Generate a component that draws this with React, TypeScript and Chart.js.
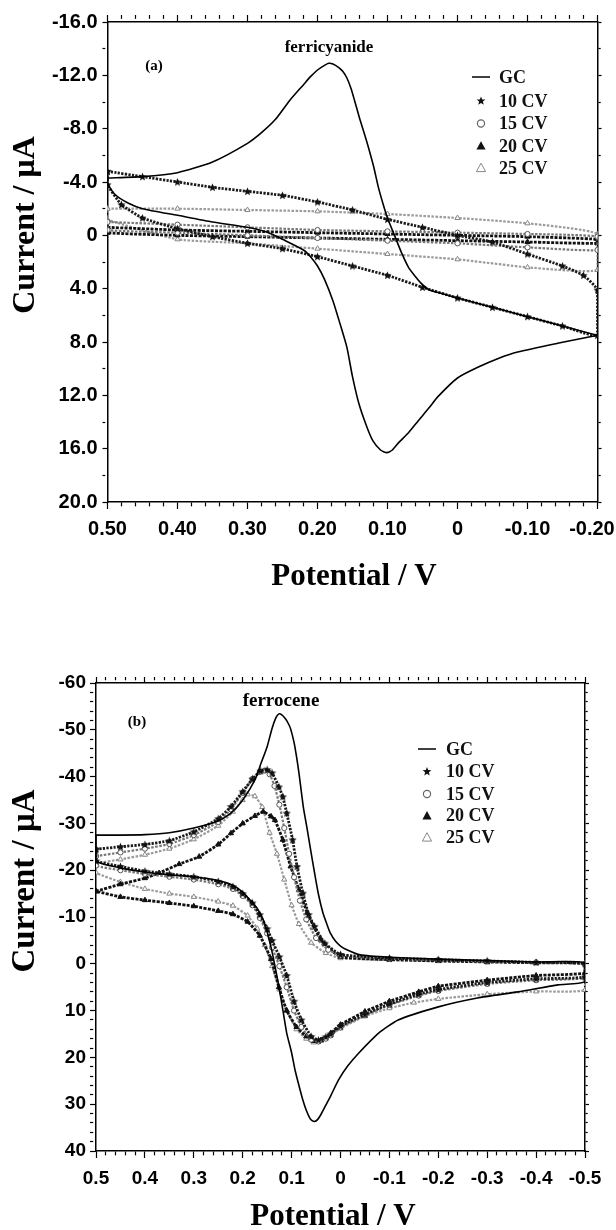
import React, { useEffect, useRef } from 'react';
import { Chart, registerables } from 'chart.js';

Chart.register(...registerables);

// ================= Panel (a): ferricyanide =================
const aXMajor = [0.5, 0.4, 0.3, 0.2, 0.1, 0, -0.1, -0.2];
const aXLabels = ['0.50', '0.40', '0.30', '0.20', '0.10', '0', '-0.10', '-0.20  '];
const aYMajor = [-16, -12, -8, -4, 0, 4, 8, 12, 16, 20];
const aYLabels = ['-16.0', '-12.0', '-8.0', '-4.0', '0', '4.0', '8.0', '12.0', '16.0', '20.0'];

// GC (solid line): sweep 0.50 -> -0.20, then back -0.20 -> 0.50
const aGcV1 = [0.5, 0.45, 0.4, 0.35, 0.3, 0.28, 0.26, 0.24, 0.22, 0.21, 0.2, 0.19, 0.184, 0.178, 0.17, 0.164, 0.158, 0.152, 0.147, 0.14, 0.13, 0.12, 0.113, 0.106, 0.1, 0.09, 0.08, 0.07, 0.06, 0.05, 0.04, 0.02, 0.0, -0.05, -0.1, -0.15, -0.2];
const aGcI1 = [-4.3, -4.4, -4.7, -5.5, -6.9, -7.7, -8.7, -10.1, -11.3, -11.9, -12.4, -12.75, -12.9, -12.85, -12.6, -12.3, -11.8, -11.0, -10.1, -8.8, -7.1, -5.2, -3.6, -2.3, -1.3, 0.0, 1.3, 2.4, 3.1, 3.7, 4.1, 4.4, 4.7, 5.4, 6.1, 6.8, 7.5];
const aGcV2 = [-0.2, -0.143, -0.086, -0.06, -0.029, 0.0, 0.028, 0.04, 0.056, 0.07, 0.085, 0.093, 0.101, 0.11, 0.121, 0.13, 0.141, 0.15, 0.158, 0.168, 0.178, 0.19, 0.2, 0.21, 0.22, 0.25, 0.27, 0.3, 0.35, 0.4, 0.45, 0.47, 0.49, 0.5];
const aGcI2 = [7.5, 8.1, 8.75, 9.2, 9.9, 10.7, 12.1, 12.9, 13.9, 14.8, 15.6, 16.1, 16.3, 16.1, 15.4, 14.3, 12.6, 10.6, 8.4, 6.6, 4.9, 3.3, 2.3, 1.6, 1.1, 0.3, -0.2, -0.6, -1.0, -1.5, -2.0, -2.4, -3.1, -3.9];

// 10 CV (filled stars)
const a10V1 = [0.5, 0.45, 0.4, 0.35, 0.3, 0.25, 0.2, 0.15, 0.1, 0.05, 0.0, -0.05, -0.1, -0.15, -0.18, -0.2];
const a10I1 = [-4.8, -4.4, -4.0, -3.6, -3.3, -3.0, -2.5, -1.9, -1.2, -0.6, 0.0, 0.5, 1.4, 2.3, 3.0, 4.1];
const a10V2 = [-0.2, -0.15, -0.1, -0.05, 0.0, 0.05, 0.1, 0.15, 0.2, 0.25, 0.3, 0.35, 0.4, 0.45, 0.48, 0.5];
const a10I2 = [7.5, 6.8, 6.1, 5.4, 4.7, 3.9, 3.0, 2.3, 1.6, 1.0, 0.6, 0.1, -0.5, -1.3, -2.3, -3.8];

// 15, 20, 25 CV share the same potential samples
const aFlatV1 = [0.5, 0.4, 0.3, 0.2, 0.1, 0.0, -0.1, -0.2];
const aFlatV2 = [-0.2, -0.1, 0.0, 0.1, 0.2, 0.3, 0.4, 0.5];
const a15I1 = [-1.0, -0.8, -0.6, -0.4, -0.3, -0.2, -0.1, 0.1];
const a15I2 = [1.1, 0.9, 0.6, 0.4, 0.2, 0.0, -0.2, -0.4];
const a20I1 = [-0.6, -0.4, -0.3, -0.2, -0.1, 0.0, 0.1, 0.3];
const a20I2 = [0.6, 0.5, 0.4, 0.3, 0.2, 0.1, 0.0, -0.2];
const a25I1 = [-2.0, -2.0, -1.9, -1.8, -1.6, -1.3, -0.9, -0.1];
const a25I2 = [2.6, 2.4, 1.8, 1.4, 1.0, 0.6, 0.3, -1.2];

// ================= Panel (b): ferrocene =================
const bXMajor = [0.5, 0.4, 0.3, 0.2, 0.1, 0, -0.1, -0.2, -0.3, -0.4, -0.5];
const bXLabels = ['0.5', '0.4', '0.3', '0.2', '0.1', '0', '-0.1', '-0.2', '-0.3', '-0.4', '-0.5'];
const bYMajor = [-60, -50, -40, -30, -20, -10, 0, 10, 20, 30, 40];
const bYLabels = ['-60', '-50', '-40', '-30', '-20', '-10', '0', '10', '20', '30', '40'];

const bGcV1 = [0.5, 0.45, 0.4, 0.35, 0.3, 0.25, 0.224, 0.2, 0.175, 0.162, 0.15, 0.14, 0.132, 0.126, 0.12, 0.113, 0.107, 0.102, 0.095, 0.09, 0.085, 0.076, 0.069, 0.061, 0.053, 0.045, 0.036, 0.028, 0.021, 0.01, 0.0, -0.013, -0.04, -0.1, -0.2, -0.3, -0.4, -0.5];
const bGcI1 = [-27.5, -27.5, -27.6, -28.0, -29.0, -30.5, -32.2, -35.0, -39.3, -43.0, -46.4, -50.3, -52.6, -53.4, -53.2, -52.4, -51.4, -50.2, -47.3, -44.3, -40.8, -33.5, -29.3, -24.3, -19.4, -14.8, -10.9, -8.5, -6.6, -4.8, -3.8, -3.0, -1.9, -1.4, -1.0, -0.7, -0.4, -0.2];
const bGcV2 = [-0.5, -0.445, -0.363, -0.28, -0.2, -0.118, -0.078, -0.037, -0.015, 0.004, 0.02, 0.03, 0.04, 0.047, 0.053, 0.058, 0.063, 0.07, 0.077, 0.085, 0.093, 0.1, 0.11, 0.118, 0.126, 0.134, 0.142, 0.15, 0.158, 0.17, 0.185, 0.2, 0.22, 0.25, 0.3, 0.35, 0.4, 0.45, 0.5];
const bGcI2 = [3.8, 4.5, 6.0, 7.3, 9.2, 12.0, 14.8, 19.1, 21.8, 24.8, 28.2, 30.2, 32.2, 33.3, 33.7, 33.5, 32.9, 31.3, 29.1, 26.0, 22.7, 19.0, 14.8, 9.8, 4.9, 0.5, -3.5, -6.8, -9.4, -11.8, -13.6, -15.3, -16.8, -17.8, -18.6, -19.0, -19.6, -20.5, -22.0];

const b10V1 = [0.5, 0.45, 0.4, 0.35, 0.3, 0.25, 0.224, 0.2, 0.18, 0.163, 0.15, 0.14, 0.126, 0.118, 0.11, 0.098, 0.089, 0.077, 0.065, 0.053, 0.032, 0.0, -0.1, -0.2, -0.3, -0.4, -0.5];
const b10I1 = [-24.5, -25.0, -25.5, -26.3, -28.2, -31.0, -33.6, -36.8, -39.5, -41.2, -41.5, -40.8, -37.8, -35.7, -32.2, -26.5, -20.8, -15.1, -10.5, -8.0, -4.4, -2.0, -1.2, -0.9, -0.6, -0.3, 0.0];
const bCvV2 = [-0.5, -0.4, -0.3, -0.2, -0.16, -0.1, -0.05, 0.0, 0.02, 0.03, 0.045, 0.06, 0.08, 0.095, 0.11, 0.125, 0.14, 0.15, 0.165, 0.18, 0.2, 0.22, 0.25, 0.3, 0.35, 0.4, 0.45, 0.5];
const b10I2 = [2.8, 3.2, 4.0, 5.5, 6.5, 8.6, 10.8, 13.3, 15.0, 15.6, 16.3, 15.5, 12.0, 8.0, 2.5, -1.5, -5.0, -7.5, -10.5, -13.0, -15.0, -16.5, -17.6, -18.6, -19.2, -19.8, -20.8, -22.0];

const b15V1 = [0.5, 0.45, 0.4, 0.35, 0.3, 0.25, 0.224, 0.2, 0.18, 0.165, 0.155, 0.145, 0.135, 0.125, 0.115, 0.105, 0.095, 0.083, 0.07, 0.05, 0.025, 0.0, -0.1, -0.2, -0.3, -0.4, -0.5];
const b15I1 = [-23.0, -23.8, -24.6, -25.6, -27.5, -30.3, -33.0, -36.5, -39.5, -41.0, -41.3, -40.5, -38.0, -34.0, -29.0, -23.5, -18.5, -13.5, -9.5, -5.5, -3.0, -1.8, -1.1, -0.8, -0.5, -0.3, 0.0];
const b15I2 = [3.0, 3.5, 4.3, 5.8, 6.8, 8.8, 11.0, 13.6, 15.3, 16.0, 16.6, 16.2, 13.5, 10.0, 5.0, 0.5, -3.5, -6.5, -9.8, -12.5, -14.5, -16.0, -17.0, -18.0, -18.6, -19.2, -20.0, -21.0];

const b20V1 = [0.5, 0.45, 0.4, 0.371, 0.33, 0.289, 0.25, 0.224, 0.2, 0.175, 0.158, 0.142, 0.134, 0.118, 0.102, 0.085, 0.068, 0.04, 0.0, -0.1, -0.2, -0.3, -0.4, -0.5];
const b20I1 = [-15.5, -17.0, -18.3, -19.4, -21.3, -22.9, -25.5, -27.9, -30.0, -31.6, -32.5, -31.5, -30.7, -26.5, -20.8, -15.8, -10.9, -5.1, -1.5, -0.9, -0.6, -0.4, -0.2, 0.0];
const b20V2 = [-0.5, -0.4, -0.3, -0.2, -0.16, -0.1, -0.05, 0.0, 0.02, 0.04, 0.055, 0.07, 0.09, 0.11, 0.126, 0.142, 0.165, 0.19, 0.22, 0.25, 0.3, 0.35, 0.4, 0.45, 0.5];
const b20I2 = [2.0, 2.5, 3.5, 4.8, 6.0, 8.0, 10.2, 13.0, 14.8, 16.3, 16.5, 15.5, 13.5, 10.0, 5.0, -1.0, -6.0, -9.0, -10.6, -11.3, -12.3, -13.0, -13.6, -14.3, -15.5];

const b25V1 = [0.5, 0.45, 0.4, 0.35, 0.3, 0.25, 0.22, 0.2, 0.19, 0.175, 0.16, 0.145, 0.13, 0.115, 0.1, 0.085, 0.06, 0.03, 0.0, -0.1, -0.2, -0.3, -0.4, -0.5];
const b25I1 = [-21.5, -22.3, -23.3, -24.6, -26.6, -29.5, -32.5, -35.0, -36.2, -35.8, -33.5, -28.0, -23.5, -18.0, -12.5, -8.5, -4.5, -2.3, -1.2, -0.8, -0.6, -0.4, -0.3, -0.1];
const b25V2 = [-0.5, -0.4, -0.3, -0.2, -0.15, -0.1, -0.05, 0.0, 0.02, 0.04, 0.055, 0.07, 0.09, 0.11, 0.125, 0.14, 0.155, 0.17, 0.19, 0.22, 0.25, 0.3, 0.35, 0.4, 0.45, 0.5];
const b25I2 = [5.6, 5.9, 6.5, 7.5, 8.3, 9.5, 11.2, 13.8, 15.2, 16.5, 16.8, 16.0, 14.0, 10.0, 5.5, 0.5, -4.0, -7.5, -10.3, -12.4, -13.3, -14.3, -15.0, -16.0, -17.5, -19.5];

// ================= Shared text =================
const legendLabels = ['GC', '10 CV', '15 CV', '20 CV', '25 CV'];
const yTitleText = 'Current / \u03bcA';
const xTitleText = 'Potential / V';
const aNote = 'ferricyanide';
const aTag = '(a)';
const bNote = 'ferrocene';
const bTag = '(b)';

const SANS = '"Liberation Sans", Arial, Helvetica, sans-serif';
const SERIF = '"Liberation Serif", "Times New Roman", Times, serif';

type Kind = 'gc' | 'star' | 'circle' | 'tri' | 'otri';

function loopPoints(v1: number[], i1: number[], v2: number[], i2: number[]) {
  const pts = v1.map((v, k) => ({ x: v, y: i1[k] }));
  v2.forEach((v, k) => pts.push({ x: v, y: i2[k] }));
  pts.push({ x: v1[0], y: i1[0] });
  return pts;
}

function allTicks(min: number, max: number, step: number) {
  const out: number[] = [];
  const n = Math.round((max - min) / step);
  for (let k = 0; k <= n; k++) out.push(+(min + k * step).toFixed(4));
  return out;
}

function majorIndex(v: number, majors: number[]) {
  return majors.findIndex((m) => Math.abs(m - v) < 1e-6);
}

function starPath(ctx: CanvasRenderingContext2D, cx: number, cy: number, R: number, r: number) {
  ctx.beginPath();
  for (let k = 0; k < 10; k++) {
    const ang = -Math.PI / 2 + (k * Math.PI) / 5;
    const rad = k % 2 === 0 ? R : r;
    const px = cx + rad * Math.cos(ang);
    const py = cy + rad * Math.sin(ang);
    if (k === 0) ctx.moveTo(px, py);
    else ctx.lineTo(px, py);
  }
  ctx.closePath();
}

function makeStarImage() {
  const c = document.createElement('canvas');
  c.width = 9;
  c.height = 9;
  const g = c.getContext('2d')!;
  g.fillStyle = '#111';
  starPath(g, 4.5, 4.8, 4.3, 1.9);
  g.fill();
  return c;
}

function drawSymbol(ctx: CanvasRenderingContext2D, kind: Kind, x: number, y: number) {
  ctx.save();
  if (kind === 'gc') {
    ctx.strokeStyle = '#000';
    ctx.lineWidth = 1.5;
    ctx.beginPath();
    ctx.moveTo(x - 9, y);
    ctx.lineTo(x + 9, y);
    ctx.stroke();
  } else if (kind === 'star') {
    ctx.fillStyle = '#111';
    starPath(ctx, x, y, 4.6, 2);
    ctx.fill();
  } else if (kind === 'circle') {
    ctx.strokeStyle = '#666';
    ctx.lineWidth = 1.2;
    ctx.beginPath();
    ctx.arc(x, y, 3.6, 0, Math.PI * 2);
    ctx.stroke();
  } else {
    ctx.beginPath();
    ctx.moveTo(x, y - 4.8);
    ctx.lineTo(x - 4.6, y + 3.6);
    ctx.lineTo(x + 4.6, y + 3.6);
    ctx.closePath();
    if (kind === 'tri') {
      ctx.fillStyle = '#111';
      ctx.fill();
    } else {
      ctx.strokeStyle = '#888';
      ctx.lineWidth = 1;
      ctx.stroke();
    }
  }
  ctx.restore();
}

type Panel = {
  width: number;
  height: number;
  x: { min: number; max: number; majors: number[]; labels: string[]; step: number };
  y: { min: number; max: number; majors: number[]; labels: string[]; step: number };
  sizes: { left: number; right: number; top: number; bottom: number };
  fontSize: number;
  xTick: { len: number; pad: number };
  yTick: { len: number; pad: number };
  topLen: number;
  rightLen: number;
  series: { kind: Kind; pts: { x: number; y: number }[] }[];
  yTitle: { x: number; y: number; size: number };
  xTitle: { x: number; y: number; size: number };
  note: { text: string; x: number; y: number; size: number };
  tag: { text: string; x: number; y: number; size: number };
  legend: { symX: number; textX: number; rows: number[]; size: number };
};

const panelA: Panel = {
  width: 616,
  height: 605,
  x: { min: -0.2, max: 0.5, majors: aXMajor, labels: aXLabels, step: 0.02 },
  y: { min: -16, max: 20, majors: aYMajor, labels: aYLabels, step: 2 },
  sizes: { left: 107.5, right: 18.5, top: 22, bottom: 103 },
  fontSize: 20,
  xTick: { len: 7, pad: 8 },
  yTick: { len: 5, pad: 5 },
  topLen: 7,
  rightLen: 4,
  series: [
    { kind: 'gc', pts: loopPoints(aGcV1, aGcI1, aGcV2, aGcI2) },
    { kind: 'star', pts: loopPoints(a10V1, a10I1, a10V2, a10I2) },
    { kind: 'circle', pts: loopPoints(aFlatV1, a15I1, aFlatV2, a15I2) },
    { kind: 'tri', pts: loopPoints(aFlatV1, a20I1, aFlatV2, a20I2) },
    { kind: 'otri', pts: loopPoints(aFlatV1, a25I1, aFlatV2, a25I2) },
  ],
  yTitle: { x: 26, y: 225, size: 32 },
  xTitle: { x: 354, y: 577, size: 31 },
  note: { text: aNote, x: 329, y: 48, size: 17 },
  tag: { text: aTag, x: 154, y: 66, size: 15 },
  legend: { symX: 481, textX: 499, rows: [77, 101, 123.5, 146, 168], size: 18 },
};

const panelB: Panel = {
  width: 616,
  height: 610,
  x: { min: -0.5, max: 0.5, majors: bXMajor, labels: bXLabels, step: 0.02 },
  y: { min: -60, max: 40, majors: bYMajor, labels: bYLabels, step: 2 },
  sizes: { left: 96, right: 31, top: 63, bottom: 79 },
  fontSize: 19,
  xTick: { len: 7, pad: 9 },
  yTick: { len: 6, pad: 4 },
  topLen: 6,
  rightLen: 4,
  series: [
    { kind: 'gc', pts: loopPoints(bGcV1, bGcI1, bGcV2, bGcI2) },
    { kind: 'star', pts: loopPoints(b10V1, b10I1, bCvV2, b10I2) },
    { kind: 'circle', pts: loopPoints(b15V1, b15I1, bCvV2, b15I2) },
    { kind: 'tri', pts: loopPoints(b20V1, b20I1, b20V2, b20I2) },
    { kind: 'otri', pts: loopPoints(b25V1, b25I1, b25V2, b25I2) },
  ],
  yTitle: { x: 25, y: 261, size: 33 },
  xTitle: { x: 333, y: 597, size: 31 },
  note: { text: bNote, x: 281, y: 81, size: 19 },
  tag: { text: bTag, x: 137, y: 102, size: 15 },
  legend: { symX: 427, textX: 446, rows: [129, 151.7, 174, 195.8, 217.5], size: 18 },
};

function axisOpts(
  pos: 'left' | 'right' | 'top' | 'bottom',
  r: { min: number; max: number; majors: number[]; labels: string[]; step: number },
  size: number,
  tickLen: number,
  pad: number,
  showLabels: boolean,
  fontSize: number
) {
  const ticksAll = allTicks(r.min, r.max, r.step);
  const vertical = pos === 'left' || pos === 'right';
  return {
    type: 'linear',
    position: pos,
    display: true,
    min: r.min,
    max: r.max,
    reverse: true,
    afterBuildTicks: (s: any) => {
      s.ticks = ticksAll.map((v) => ({ value: v }));
    },
    afterFit: (s: any) => {
      if (vertical) s.width = size;
      else s.height = size;
      s.paddingLeft = 0;
      s.paddingRight = 0;
      s.paddingTop = 0;
      s.paddingBottom = 0;
    },
    border: { display: true, color: '#000', width: 1.5 },
    grid: {
      display: true,
      drawOnChartArea: false,
      drawTicks: true,
      tickLength: tickLen,
      tickColor: '#000',
      tickWidth: 1.2,
      tickBorderDash: (ctx: any) =>
        ctx.tick && majorIndex(ctx.tick.value, r.majors) >= 0 ? [] : [Math.max(2, tickLen * 0.55), 60],
    },
    ticks: {
      display: showLabels,
      autoSkip: false,
      maxRotation: 0,
      minRotation: 0,
      padding: pad,
      color: '#000',
      font: { family: SANS, size: fontSize, weight: 'bold' },
      callback: (v: number) => {
        const i = majorIndex(v, r.majors);
        return i >= 0 ? r.labels[i] : '';
      },
    },
    title: { display: false },
  };
}

function datasetFor(kind: Kind, pts: { x: number; y: number }[], star: HTMLCanvasElement) {
  const base: any = { data: pts, showLine: true, fill: false, label: kind, tension: 0.15 };
  if (kind === 'gc') {
    return { ...base, borderColor: '#000', borderWidth: 1.6, pointRadius: 0, tension: 0.2 };
  }
  if (kind === 'star') {
    return {
      ...base,
      borderColor: '#1a1a1a',
      borderWidth: 2.8,
      borderDash: [2.2, 1.3],
      pointStyle: star,
      pointRadius: 4,
    };
  }
  if (kind === 'circle') {
    return {
      ...base,
      borderColor: '#777',
      borderWidth: 2.2,
      borderDash: [2.5, 1.5],
      pointStyle: 'circle',
      pointRadius: 2.6,
      pointBorderColor: '#555',
      pointBackgroundColor: '#fff',
      pointBorderWidth: 1,
    };
  }
  if (kind === 'tri') {
    return {
      ...base,
      borderColor: '#111',
      borderWidth: 2.8,
      borderDash: [3, 1.3],
      pointStyle: 'triangle',
      pointRadius: 3,
      pointBorderColor: '#111',
      pointBackgroundColor: '#111',
      pointBorderWidth: 1,
    };
  }
  return {
    ...base,
    borderColor: '#9a9a9a',
    borderWidth: 2.2,
    borderDash: [2.5, 1.5],
    pointStyle: 'triangle',
    pointRadius: 3,
    pointBorderColor: '#888',
    pointBackgroundColor: 'rgba(255,255,255,0.9)',
    pointBorderWidth: 1,
  };
}

function textPlugin(p: Panel) {
  return {
    id: 'panelText',
    afterDraw(chart: any) {
      const ctx: CanvasRenderingContext2D = chart.ctx;
      ctx.save();
      ctx.fillStyle = '#000';
      ctx.textBaseline = 'middle';
      // y-axis title
      ctx.save();
      ctx.translate(p.yTitle.x, p.yTitle.y);
      ctx.rotate(-Math.PI / 2);
      ctx.font = `bold ${p.yTitle.size}px ${SERIF}`;
      ctx.textAlign = 'center';
      ctx.fillText(yTitleText, 0, 0);
      ctx.restore();
      // x-axis title
      ctx.font = `bold ${p.xTitle.size}px ${SERIF}`;
      ctx.textAlign = 'center';
      ctx.fillText(xTitleText, p.xTitle.x, p.xTitle.y);
      // annotations
      ctx.font = `bold ${p.note.size}px ${SERIF}`;
      ctx.fillText(p.note.text, p.note.x, p.note.y);
      ctx.font = `bold ${p.tag.size}px ${SERIF}`;
      ctx.fillText(p.tag.text, p.tag.x, p.tag.y);
      // legend
      ctx.font = `bold ${p.legend.size}px ${SERIF}`;
      ctx.textAlign = 'left';
      p.series.forEach((s, k) => {
        const y = p.legend.rows[k];
        drawSymbol(ctx, s.kind, p.legend.symX, y);
        ctx.fillStyle = '#111';
        ctx.fillText(legendLabels[k], p.legend.textX, y + 1);
      });
      ctx.restore();
    },
  };
}

function buildConfig(p: Panel, star: HTMLCanvasElement): any {
  return {
    type: 'scatter',
    data: { datasets: p.series.map((s) => datasetFor(s.kind, s.pts, star)) },
    options: {
      responsive: false,
      animation: false,
      devicePixelRatio: 1,
      events: [],
      layout: { padding: 0 },
      plugins: { legend: { display: false }, tooltip: { enabled: false } },
      scales: {
        x: axisOpts('bottom', p.x, p.sizes.bottom, p.xTick.len, p.xTick.pad, true, p.fontSize),
        x2: axisOpts('top', p.x, p.sizes.top, p.topLen, 0, false, p.fontSize),
        y: axisOpts('left', p.y, p.sizes.left, p.yTick.len, p.yTick.pad, true, p.fontSize),
        y2: axisOpts('right', p.y, p.sizes.right, p.rightLen, 0, false, p.fontSize),
      },
    },
    plugins: [textPlugin(p)],
  };
}

export default function App() {
  const refA = useRef<HTMLCanvasElement>(null);
  const refB = useRef<HTMLCanvasElement>(null);

  useEffect(() => {
    const star = makeStarImage();
    const ca = new Chart(refA.current!, buildConfig(panelA, star));
    const cb = new Chart(refB.current!, buildConfig(panelB, star));
    return () => {
      ca.destroy();
      cb.destroy();
    };
  }, []);

  return (
    <div
      style={{
        position: 'absolute',
        left: 0,
        top: 0,
        width: 616,
        height: 1230,
        background: '#fff',
        overflow: 'hidden',
      }}
    >
      <canvas
        ref={refA}
        width={panelA.width}
        height={panelA.height}
        style={{ position: 'absolute', left: 0, top: 0, width: panelA.width, height: panelA.height }}
      />
      <canvas
        ref={refB}
        width={panelB.width}
        height={panelB.height}
        style={{ position: 'absolute', left: 0, top: 620, width: panelB.width, height: panelB.height }}
      />
    </div>
  );
}
